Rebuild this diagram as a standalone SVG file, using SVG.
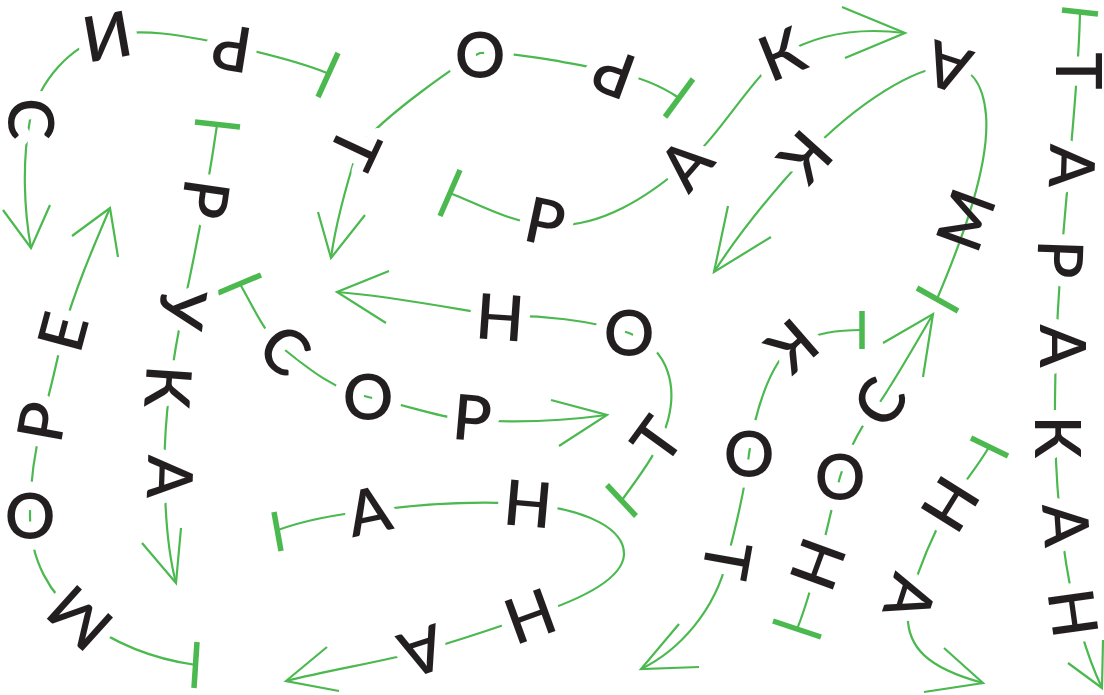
<svg xmlns="http://www.w3.org/2000/svg" width="1104" height="695" viewBox="0 0 1104 695">
<style>
.c{fill:none;stroke:#4bb94f;stroke-width:2.2;stroke-linecap:butt;stroke-linejoin:miter}
.b{fill:none;stroke:#4bb94f;stroke-width:5.5}
text{font-family:Lato,"Noto Sans","DejaVu Sans",sans-serif;font-size:63px;font-weight:600;fill:#231f20;text-anchor:middle}
.nh{stroke:none}
</style>
<defs>
<mask id="gap" maskUnits="userSpaceOnUse" x="0" y="0" width="1104" height="695">
<rect width="1104" height="695" fill="#fff"/>
<use href="#letters" stroke="#000" stroke-width="22" stroke-linejoin="round"/>
</mask>
</defs>
<rect width="1104" height="695" fill="#fff"/>
<g id="connectors" mask="url(#gap)">
<path class="c" d="M327,73 C295,60 258,52 232,46 C180,34 140,28 107,36 C70,46 40,80 30,120 C22,160 24,210 31,248"/>
<path class="c" d="M679,98 C660,85 640,77 614,72 C580,65 520,52 480,53 C460,62 385,115 358,148 C348,180 336,220 331,258"/>
<path class="c" d="M450,193 C480,205 510,222 545,225 C600,230 650,195 686,164 C720,135 750,80 782,55 C820,32 865,28 905,33"/>
<path class="c" d="M937,299 C962,240 990,165 986,115 C983,80 968,66 948,66 C915,68 860,100 805,157 C770,195 740,232 714,272"/>
<path class="c" d="M196,665 C160,660 120,648 80,618 C50,595 30,560 30,516 C30,480 35,450 42,422 C50,390 58,360 63,332 C75,290 92,250 110,208"/>
<path class="c" d="M217,125 C212,160 200,230 185,300 C172,360 162,430 165,490 C166,530 170,560 176,583"/>
<path class="c" d="M240,284 C255,310 265,335 285,350 C310,370 335,390 368,397 C410,406 440,418 472,420 C520,423 570,420 607,415"/>
<path class="c" d="M622,500 C640,475 660,450 668,420 C676,390 672,350 629,333 C590,320 540,315 500,316 C450,308 390,296 337,292"/>
<path class="c" d="M278,530 C300,522 330,515 369,511 C420,504 470,500 528,504 C590,510 625,530 624,555 C622,580 580,600 530,616 C490,630 460,640 422,651 C380,662 330,670 286,681"/>
<path class="c" d="M862,330 C840,330 815,332 792,346 C770,365 755,410 749,454 C745,490 735,530 727,560 C715,610 680,650 641,669"/>
<path class="c" d="M797,629 C805,610 810,590 818,564 C825,540 832,505 840,477 C850,445 865,420 880,402 C895,380 915,345 933,314"/>
<path class="c" d="M989,447 C978,466 962,485 950,504 C935,530 920,565 910,598 C898,650 935,670 983,683"/>
<path class="c" d="M1080,12 C1078,120 1056,250 1055,400 C1054,520 1070,620 1102,688"/>
<g id="bars">
<line class="b" x1="318" y1="97" x2="338" y2="53"/>
<line class="b" x1="665" y1="117" x2="693" y2="79"/>
<line class="b" x1="440" y1="216" x2="460" y2="170"/>
<line class="b" x1="917" y1="288" x2="958" y2="311"/>
<line class="b" x1="197" y1="642" x2="194" y2="688"/>
<line class="b" x1="195" y1="122" x2="240" y2="127"/>
<line class="b" x1="218" y1="293" x2="261" y2="275"/>
<line class="b" x1="607" y1="485" x2="636" y2="516"/>
<line class="b" x1="274" y1="512" x2="281" y2="551"/>
<line class="b" x1="862" y1="311" x2="862" y2="349"/>
<line class="b" x1="773" y1="621" x2="821" y2="637"/>
<line class="b" x1="971" y1="438" x2="1008" y2="456"/>
<line class="b" x1="1062" y1="10" x2="1098" y2="14"/>
</g>
<g id="arrowheads">
<polyline class="c" points="3,210 31,248 50,205"/>
<polyline class="c" points="318,212 331,258 365,215"/>
<polyline class="c" points="842,7 905,33 845,58"/>
<polyline class="c" points="728,206 714,272 771,237"/>
<polyline class="c" points="72,236 110,208 118,257"/>
<polyline class="c" points="142,543 176,583 181,528"/>
<polyline class="c" points="551,400 607,415 559,446"/>
<polyline class="c" points="389,271 337,292 386,323"/>
<polyline class="c" points="327,647 286,681 339,691"/>
<polyline class="c" points="679,624 641,669 699,667"/>
<polyline class="c" points="883,343 933,314 923,377"/>
<polyline class="c" points="944,648 983,683 924,692"/>
<polyline class="c" points="1068,663 1102,688 1103,640"/>
</g>
</g>
<g id="letters">
<g id="word-ris">
<text y="22.5" transform="translate(232,48) rotate(189)">Р</text>
<text y="22.5" transform="translate(107,36) rotate(170)">И</text>
<text y="22.5" transform="translate(30,119) rotate(90)">С</text>
</g>
<g id="word-rot">
<text y="22.5" transform="translate(614,73) rotate(200)">Р</text>
<text y="22.5" transform="translate(480,55)">О</text>
<text y="22.5" transform="translate(355,148) rotate(115)">Т</text>
</g>
<g id="word-rak">
<text y="22.5" transform="translate(545,222) rotate(12)">Р</text>
<text y="22.5" transform="translate(686,164) rotate(-49)">А</text>
<text y="22.5" transform="translate(782,54) rotate(-22)">К</text>
</g>
<g id="word-mak">
<text class="nh" y="22.5" transform="translate(966,220) rotate(-70)">М</text>
<text y="22.5" transform="translate(948,67) rotate(198)">А</text>
<text y="22.5" transform="translate(805,157) rotate(132)">К</text>
</g>
<g id="word-more">
<text y="22.5" transform="translate(80,618) rotate(222)">М</text>
<text y="22.5" transform="translate(30,516)">О</text>
<text y="22.5" transform="translate(42,422) rotate(-80)">Р</text>
<text y="22.5" transform="translate(63,332) rotate(-75)">Е</text>
</g>
<g id="word-ruka">
<text y="22.5" transform="translate(205,199) rotate(98)">Р</text>
<text y="22.5" transform="translate(182,309) rotate(98)">У</text>
<text y="22.5" transform="translate(168,387) rotate(94)">К</text>
<text y="22.5" transform="translate(170,477) rotate(92)">А</text>
</g>
<g id="word-sor">
<text y="22.5" transform="translate(285,350) rotate(43)">С</text>
<text y="22.5" transform="translate(368,397)">О</text>
<text y="22.5" transform="translate(472,418) rotate(5)">Р</text>
</g>
<g id="word-ton">
<text y="22.5" transform="translate(657,440) rotate(-54)">Т</text>
<text y="22.5" transform="translate(629,333)">О</text>
<text y="22.5" transform="translate(500,317) rotate(184)">Н</text>
</g>
<g id="word-anna">
<text y="22.5" transform="translate(369,511) rotate(-12)">А</text>
<text y="22.5" transform="translate(528,504) rotate(5)">Н</text>
<text y="22.5" transform="translate(530,616) rotate(160)">Н</text>
<text y="22.5" transform="translate(422,651) rotate(162)">А</text>
</g>
<g id="word-kot">
<text y="22.5" transform="translate(792,346) rotate(139)">К</text>
<text y="22.5" transform="translate(749,454)">О</text>
<text y="22.5" transform="translate(727,560) rotate(100)">Т</text>
</g>
<g id="word-nos">
<text y="22.5" transform="translate(818,564) rotate(-70)">Н</text>
<text y="22.5" transform="translate(840,477)">О</text>
<text y="22.5" transform="translate(880,402) rotate(-58)">С</text>
</g>
<g id="word-na">
<text y="22.5" transform="translate(950,504) rotate(122)">Н</text>
<text y="22.5" transform="translate(910,598) rotate(108)">А</text>
</g>
<g id="word-tarakan">
<text y="22.5" transform="translate(1078,71) rotate(90)">Т</text>
<text y="22.5" transform="translate(1072,166) rotate(92)">А</text>
<text y="22.5" transform="translate(1060,259) rotate(92)">Р</text>
<text y="22.5" transform="translate(1062,346) rotate(90)">А</text>
<text y="22.5" transform="translate(1057,437) rotate(90)">К</text>
<text y="22.5" transform="translate(1066,525) rotate(86)">А</text>
<text y="22.5" transform="translate(1073,613) rotate(82)">Н</text>
</g>
</g>
</svg>
